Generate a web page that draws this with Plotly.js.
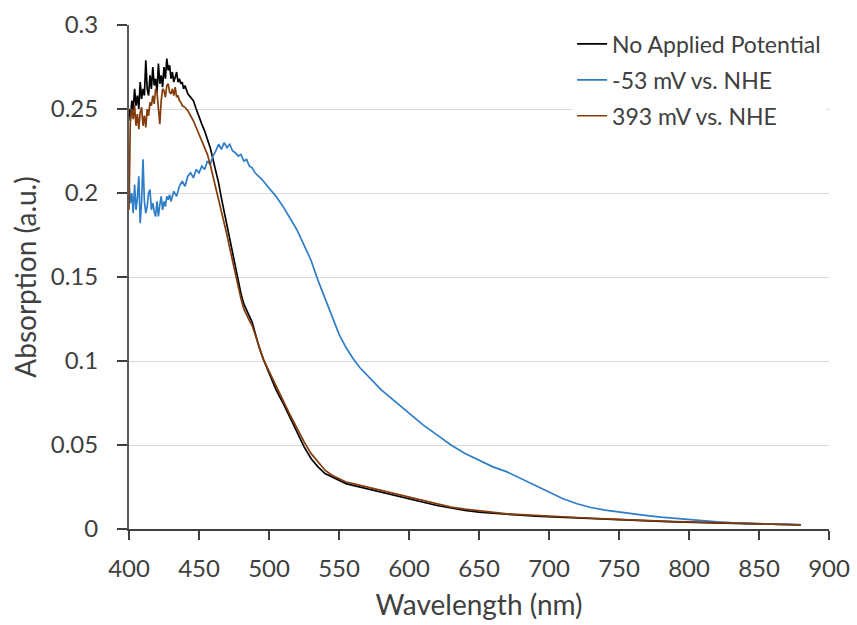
<!DOCTYPE html>
<html>
<head>
<meta charset="utf-8">
<script src="https://cdn.plot.ly/plotly-3.0.1.min.js"></script>
<style>html,body{margin:0;padding:0;background:#fff}#chart{width:857px;height:625px}</style>
</head>
<body>
<div id="chart"></div>
<script>
// No Applied Potential
const wlNone = [400,401,402,403,404,405,406,407,408,409,410,411,412,413,414,415,416,417,418,419,420,421,422,423,424,425,426,427,428,429,430,431,432,433,434,435,436,437,438,439,440,442,444,446,448,450,452,454,456,458,460,462,464,466,468,470,472,474,476,478,480,482,484,486,488,490,493,496,500,505,510,515,520,525,530,535,540,545,550,555,560,565,570,580,590,600,610,620,630,640,650,660,670,680,690,700,710,720,730,740,750,760,770,780,790,800,810,820,830,840,850,860,870,880];
const absNone = [0.250,0.243,0.255,0.249,0.262,0.252,0.258,0.250,0.266,0.256,0.262,0.258,0.279,0.262,0.258,0.270,0.262,0.275,0.264,0.268,0.260,0.277,0.265,0.270,0.263,0.275,0.268,0.280,0.273,0.276,0.268,0.272,0.266,0.270,0.272,0.266,0.268,0.265,0.266,0.262,0.264,0.259,0.257,0.255,0.250,0.245,0.241,0.237,0.232,0.227,0.220,0.213,0.206,0.197,0.189,0.181,0.173,0.164,0.155,0.147,0.140,0.134,0.130,0.127,0.123,0.117,0.108,0.101,0.093,0.083,0.075,0.066,0.057,0.049,0.042,0.037,0.033,0.031,0.029,0.027,0.026,0.025,0.024,0.022,0.020,0.018,0.016,0.014,0.0125,0.011,0.010,0.0093,0.0085,0.0082,0.0077,0.0073,0.0070,0.0066,0.0062,0.0058,0.0054,0.0051,0.0048,0.0045,0.0043,0.0041,0.0039,0.0037,0.0035,0.0032,0.0030,0.0028,0.0026,0.0024];

// -53 mV vs. NHE
const wlNeg = [400,401,402,403,404,405,406,407,408,409,410,411,412,413,414,415,416,417,418,419,420,421,422,423,424,425,426,427,428,429,430,432,434,436,438,440,442,444,446,448,450,452,454,456,458,460,462,464,466,468,470,472,474,476,478,480,482,484,486,488,490,495,500,505,510,515,520,525,530,535,540,545,550,555,560,565,570,575,580,590,600,610,620,630,640,650,660,670,680,690,700,710,720,730,740,750,760,770,780,790,800,810,820,830,840,850,860,870,880];
const absNeg = [0.205,0.194,0.200,0.188,0.205,0.190,0.197,0.210,0.182,0.195,0.220,0.195,0.188,0.192,0.200,0.202,0.190,0.194,0.189,0.186,0.195,0.186,0.193,0.198,0.190,0.195,0.192,0.198,0.196,0.199,0.195,0.201,0.198,0.204,0.207,0.204,0.210,0.212,0.209,0.214,0.212,0.216,0.214,0.219,0.217,0.222,0.225,0.229,0.226,0.230,0.227,0.229,0.225,0.224,0.222,0.223,0.219,0.220,0.216,0.215,0.212,0.208,0.203,0.198,0.192,0.185,0.178,0.169,0.160,0.148,0.137,0.126,0.116,0.108,0.1015,0.096,0.0915,0.087,0.083,0.076,0.069,0.062,0.056,0.050,0.045,0.041,0.037,0.034,0.030,0.026,0.022,0.018,0.0150,0.0128,0.0112,0.0100,0.0090,0.0080,0.0071,0.0063,0.0055,0.0049,0.0043,0.0038,0.0034,0.0031,0.0029,0.0027,0.0025];

// 393 mV vs. NHE
const wlPos = [400,401,402,403,404,405,406,407,408,409,410,411,412,413,414,415,416,417,418,419,420,421,422,423,424,425,426,427,428,429,430,431,432,433,434,435,436,437,438,440,442,444,446,448,450,452,454,456,458,460,462,464,466,468,470,472,474,476,478,480,482,484,486,488,490,493,496,500,505,510,515,520,525,530,535,540,545,550,555,560,565,570,580,590,600,610,620,630,640,650,660,670,680,690,700,710,720,730,740,750,760,770,780,790,800,810,820,830,840,850,860,870,880];
const absPos = [0.190,0.245,0.250,0.244,0.252,0.240,0.247,0.238,0.248,0.251,0.240,0.246,0.239,0.250,0.246,0.254,0.252,0.258,0.253,0.262,0.260,0.250,0.241,0.255,0.262,0.261,0.257,0.264,0.265,0.260,0.259,0.262,0.258,0.263,0.257,0.258,0.255,0.254,0.252,0.251,0.249,0.246,0.243,0.239,0.235,0.232,0.228,0.223,0.217,0.210,0.204,0.197,0.190,0.183,0.175,0.167,0.159,0.151,0.144,0.137,0.131,0.127,0.124,0.121,0.116,0.108,0.101,0.094,0.085,0.077,0.068,0.060,0.052,0.045,0.040,0.035,0.032,0.030,0.028,0.027,0.026,0.025,0.023,0.021,0.019,0.017,0.015,0.013,0.0118,0.0108,0.0098,0.0090,0.0085,0.0080,0.0076,0.0072,0.0068,0.0064,0.0060,0.0056,0.0053,0.0050,0.0047,0.0044,0.0042,0.0040,0.0038,0.0036,0.0033,0.0031,0.0029,0.0027,0.0025];

const seriesNames = ["No Applied Potential", "-53 mV vs. NHE", "393 mV vs. NHE"];
const xTicks = [400,450,500,550,600,650,700,750,800,850,900];
const yTicks = [0,0.05,0.1,0.15,0.2,0.25,0.3];
const yTickText = ["0","0.05","0.1","0.15","0.2","0.25","0.3"];

const FONT = "Lato, 'Open Sans', sans-serif";
const TXT = "#404040";

const traces = [
  {x: wlNone, y: absNone, name: seriesNames[0], legendgroup: "a", line: {color: "#000000", width: 1.7}},
  {x: wlNeg, y: absNeg, name: seriesNames[1], legendgroup: "b", line: {color: "#2E7DC8", width: 1.7}},
  {x: wlPos, y: absPos, name: seriesNames[2], legendgroup: "c", line: {color: "#843C0C", width: 1.7}}
].map(t => Object.assign({type: "scatter", mode: "lines"}, t));

const layout = {
  width: 857, height: 625,
  margin: {l: 129, r: 28, t: 25, b: 96},
  paper_bgcolor: "#ffffff", plot_bgcolor: "#ffffff",
  font: {family: FONT, color: TXT, size: 22},
  showlegend: true,
  legend: {
    x: 0.633, xanchor: "left", y: 1.005, yanchor: "top",
    bgcolor: "#ffffff", borderwidth: 0,
    font: {family: FONT, size: 23, color: TXT},
    itemwidth: 30, tracegroupgap: 3, traceorder: "grouped"
  },
  xaxis: {
    range: [400, 900], tickmode: "array", tickvals: xTicks,
    showgrid: false, zeroline: false,
    showline: true, linecolor: "#404040", linewidth: 2,
    ticks: "outside", ticklen: 9, tickwidth: 2, tickcolor: "#404040",
    ticklabelstandoff: 8,
    tickfont: {family: FONT, size: 24, color: TXT},
    title: {text: "Wavelength (nm)", font: {family: FONT, size: 28, color: TXT}, standoff: 15}
  },
  yaxis: {
    range: [0, 0.3], tickmode: "array", tickvals: yTicks, ticktext: yTickText,
    showgrid: true, gridcolor: "#D9D9D9", gridwidth: 1, zeroline: false,
    showline: true, linecolor: "#595959", linewidth: 2,
    ticks: "outside", ticklen: 10, tickwidth: 2, tickcolor: "#404040",
    ticklabelstandoff: 14,
    tickfont: {family: FONT, size: 24, color: TXT},
    title: {text: "Absorption (a.u.)", font: {family: FONT, size: 28, color: TXT}, standoff: 6}
  }
};

Plotly.newPlot("chart", traces, layout, {staticPlot: true, displayModeBar: false});
</script>
</body>
</html>
